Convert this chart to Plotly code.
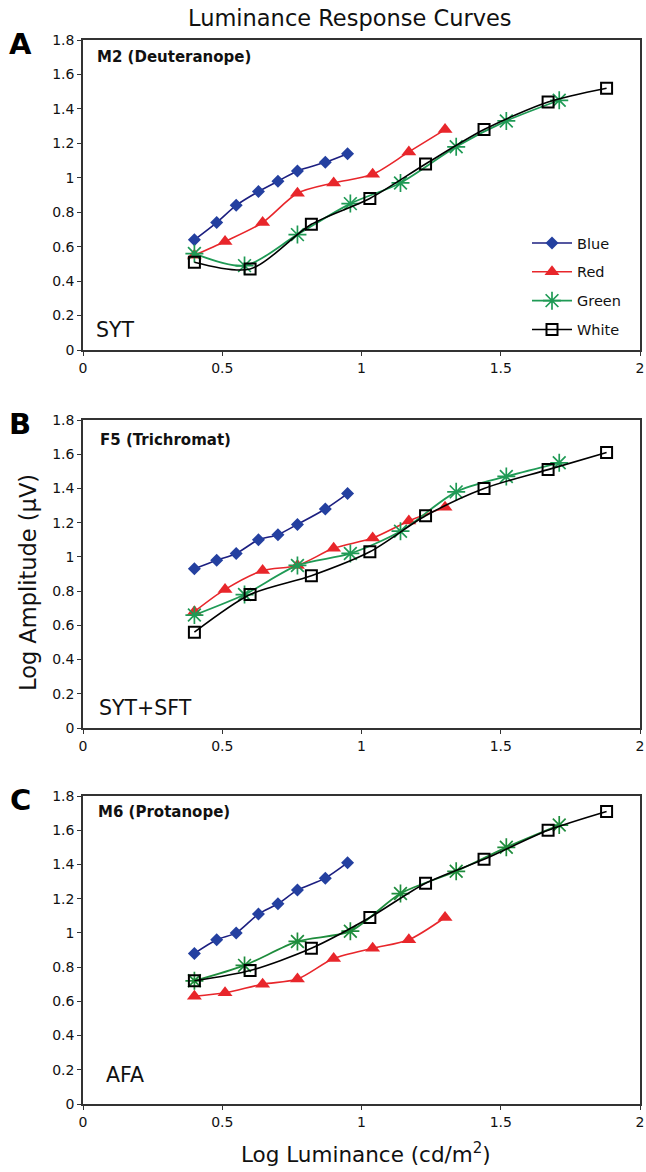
import plotly.graph_objects as go

# ---------------- data ----------------
blue_x = [0.40, 0.48, 0.55, 0.63, 0.70, 0.77, 0.87, 0.95]
red_x = [0.40, 0.51, 0.645, 0.77, 0.90, 1.04, 1.17, 1.30]
green_x = [0.40, 0.58, 0.77, 0.96, 1.14, 1.34, 1.52, 1.71]
white_x = [0.40, 0.60, 0.82, 1.03, 1.23, 1.44, 1.67, 1.88]

# Panel A: M2 (Deuteranope)
a_blue = [0.64, 0.74, 0.84, 0.92, 0.98, 1.04, 1.09, 1.14]
a_red = [0.55, 0.63, 0.74, 0.91, 0.97, 1.02, 1.15, 1.28]
a_green = [0.56, 0.49, 0.67, 0.85, 0.97, 1.18, 1.33, 1.45]
a_white = [0.51, 0.47, 0.73, 0.88, 1.08, 1.28, 1.44, 1.52]

# Panel B: F5 (Trichromat)
b_blue = [0.93, 0.98, 1.02, 1.10, 1.13, 1.19, 1.28, 1.37]
b_red = [0.68, 0.81, 0.92, 0.95, 1.05, 1.11, 1.21, 1.29]
b_green = [0.66, 0.78, 0.95, 1.02, 1.15, 1.38, 1.47, 1.55]
b_white = [0.56, 0.78, 0.89, 1.03, 1.24, 1.40, 1.51, 1.61]

# Panel C: M6 (Protanope)
c_blue = [0.88, 0.96, 1.00, 1.11, 1.17, 1.25, 1.32, 1.41]
c_red = [0.63, 0.65, 0.70, 0.73, 0.85, 0.91, 0.96, 1.09]
c_green = [0.72, 0.81, 0.95, 1.01, 1.23, 1.36, 1.50, 1.63]
c_white = [0.72, 0.78, 0.91, 1.09, 1.29, 1.43, 1.60, 1.71]

series_names = ["Blue", "Red", "Green", "White"]
panel_letters = ["A", "B", "C"]
panel_titles = ["M2 (Deuteranope)", "F5 (Trichromat)", "M6 (Protanope)"]
panel_notes = ["SYT", "SYT+SFT", "AFA"]
x_ticks = [0, 0.5, 1, 1.5, 2]
y_ticks = [0, 0.2, 0.4, 0.6, 0.8, 1, 1.2, 1.4, 1.6, 1.8]

panels = [
    [a_blue, a_red, a_green, a_white],
    [b_blue, b_red, b_green, b_white],
    [c_blue, c_red, c_green, c_white],
]
xs = [blue_x, red_x, green_x, white_x]
green_colors = ["#1f9a55", "#1f9a55", "#1e8c3c"]

FONT = "DejaVu Sans, Liberation Sans, Arial, sans-serif"
W, H = 646, 1172

styles = [
    dict(color="#1c1f80", mcolor="#2440a0", width=1.6, symbol="diamond", size=10),
    dict(color="#e8262b", mcolor="#e8262b", width=1.6, symbol="triangle-up", size=13),
    dict(color="#1f9a55", mcolor="#1f9a55", width=1.8, symbol="asterisk-open", size=15),
    dict(color="#000000", mcolor="#000000", width=1.6, symbol="square-open", size=11),
]

# plot-area pixel boxes (top, bottom) for each panel
x_left, x_right = 83, 640
boxes = [(40, 350), (420, 728), (796, 1104)]

fig = go.Figure()
for p, vals in enumerate(panels):
    xa = "x" if p == 0 else f"x{p+1}"
    ya = "y" if p == 0 else f"y{p+1}"
    for s, name in enumerate(series_names):
        st = styles[s]
        col = green_colors[p] if name == "Green" else st["color"]
        mcol = green_colors[p] if name == "Green" else st["mcolor"]
        if st["symbol"] in ("asterisk-open", "square-open"):
            mline = dict(width=1.7 if name == "Green" else 2, color=mcol)
        else:
            mline = dict(width=0)
        fig.add_trace(go.Scatter(
            x=xs[s], y=vals[s], name=name, mode="lines+markers",
            line=dict(color=col, width=st["width"], shape="spline", smoothing=0.8),
            marker=dict(symbol=st["symbol"], size=st["size"], color=mcol, line=mline),
            xaxis=xa, yaxis=ya,
            legendgroup=name, showlegend=(p == 0),
        ))

axis_common = dict(showline=True, mirror=True, linecolor="#333333", linewidth=1.6,
                   ticks="outside", ticklen=4, tickcolor="#333333", showgrid=False,
                   zeroline=False, automargin=False,
                   tickfont=dict(family=FONT, size=14, color="#111111"))


def px(xp):
    return xp / W


def py(yp):
    return 1 - yp / H


layout = dict(
    template="none",
    width=W, height=H,
    margin=dict(l=0, r=0, t=0, b=0, pad=0),
    paper_bgcolor="white", plot_bgcolor="white",
    font=dict(family=FONT, color="#111111"),
    showlegend=True,
    legend=dict(x=px(527), y=py(227), xanchor="left", yanchor="top",
                font=dict(family=FONT, size=14.5, color="#111111"),
                bgcolor="rgba(0,0,0,0)", borderwidth=0,
                traceorder="grouped", tracegroupgap=7, itemwidth=40),
)
annotations = []
note_pos = [(94, 330), (97, 708), (104, 1075)]
title_pos = [(95, 57), (98, 440), (96, 812)]
for p, (top, bot) in enumerate(boxes):
    sfx = "" if p == 0 else str(p + 1)
    layout["xaxis" + sfx] = dict(axis_common, range=[0, 2], tickvals=x_ticks,
                                 domain=[px(x_left), px(x_right)],
                                 anchor="y" + sfx)
    layout["yaxis" + sfx] = dict(axis_common, range=[0, 1.8], tickvals=y_ticks,
                                 domain=[py(bot), py(top)],
                                 anchor="x" + sfx)
    annotations.append(dict(text=f"<b>{panel_letters[p]}</b>", x=px(20), y=py(top + 4),
                            xref="paper", yref="paper", xanchor="center", yanchor="middle",
                            showarrow=False, font=dict(family=FONT, size=29, color="#000")))
    annotations.append(dict(text=f"<b>{panel_titles[p]}</b>", x=px(title_pos[p][0]),
                            y=py(title_pos[p][1]), xref="paper", yref="paper",
                            xanchor="left", yanchor="middle", showarrow=False,
                            font=dict(family=FONT, size=15, color="#111")))
    annotations.append(dict(text=panel_notes[p], x=px(note_pos[p][0]), y=py(note_pos[p][1]),
                            xref="paper", yref="paper", xanchor="left", yanchor="middle",
                            showarrow=False, font=dict(family=FONT, size=20.5, color="#111")))

annotations.append(dict(text="Luminance Response Curves", x=px(350), y=py(18),
                        xref="paper", yref="paper", xanchor="center", yanchor="middle",
                        showarrow=False, font=dict(family=FONT, size=22.5, color="#111")))
annotations.append(dict(text="Log Amplitude (µV)", x=px(28), y=py(583), textangle=-90,
                        xref="paper", yref="paper", xanchor="center", yanchor="middle",
                        showarrow=False, font=dict(family=FONT, size=22.5, color="#111")))
annotations.append(dict(text="Log Luminance (cd/m<sup>2</sup>)", x=px(366), y=py(1153),
                        xref="paper", yref="paper", xanchor="center", yanchor="middle",
                        showarrow=False, font=dict(family=FONT, size=21.5, color="#111")))
layout["annotations"] = annotations

fig.update_layout(**layout)
fig.write_html("out.html", config={"displayModeBar": False},
               post_script="document.body.style.margin='0px';document.body.style.overflow='hidden';")
